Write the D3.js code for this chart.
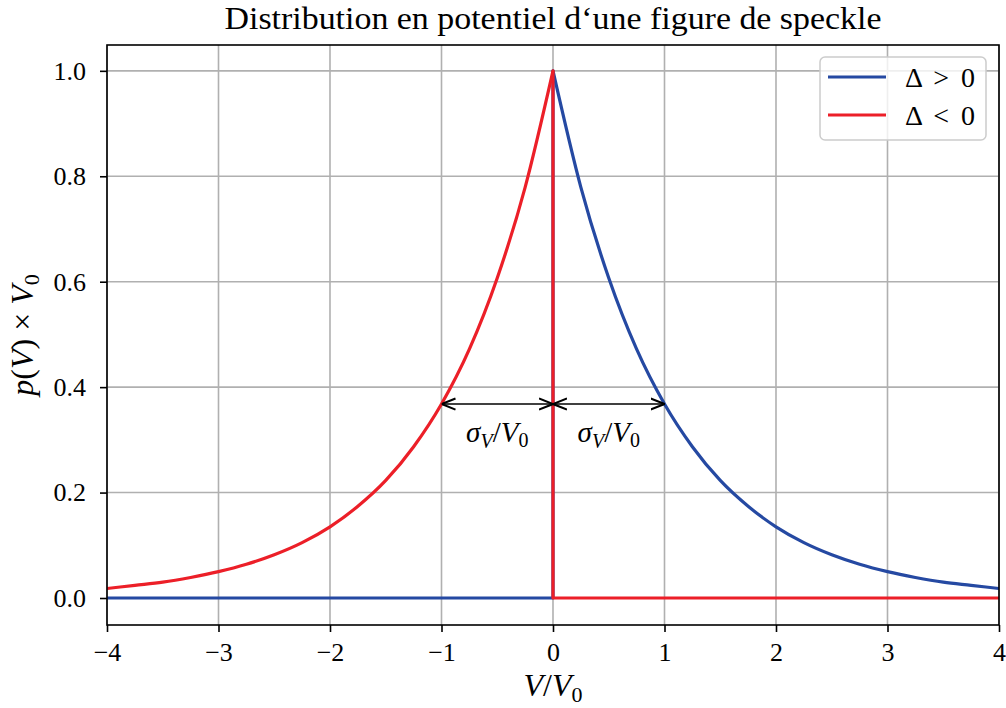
<!DOCTYPE html>
<html><head><meta charset="utf-8">
<script src="https://cdn.jsdelivr.net/npm/d3@7"></script>
<style>body{margin:0;background:#fff}svg{display:block}text{font-family:"Liberation Serif","DejaVu Serif",serif;fill:#000}</style>
</head><body><svg id="c" width="1006" height="708"></svg>
<script>
// Values
const xsPos = [0,0.25,0.5,0.75,1,1.25,1.5,1.75,2,2.25,2.5,2.75,3,3.25,3.5,3.75,4];
const blueCurve = [1,0.779,0.607,0.472,0.368,0.287,0.223,0.174,0.135,0.105,0.082,0.064,0.050,0.039,0.030,0.024,0.018];
const xsNeg = [-4,-3.75,-3.5,-3.25,-3,-2.75,-2.5,-2.25,-2,-1.75,-1.5,-1.25,-1,-0.75,-0.5,-0.25,0];
const redCurve = [0.018,0.024,0.030,0.039,0.050,0.064,0.082,0.105,0.135,0.174,0.223,0.287,0.368,0.472,0.607,0.779,1];
const blueFlat = [[-4,0],[0,0],[0,1]];
const redFlat = [[0,1],[0,0],[4,0]];
const xTicks = [-4,-3,-2,-1,0,1,2,3,4];
const yTicks = [0,0.2,0.4,0.6,0.8,1.0];
const sigmaLevel = 0.368;
const arrowSpans = [[-1,0],[0,1]];
const legendItems = [{sym:"Δ > 0",color:"#2549a2"},{sym:"Δ < 0",color:"#ec1f28"}];

const svg = d3.select("#c");
const L=107,R=999,T=45,B=625;
const x = d3.scaleLinear().domain([-4,4]).range([L,R]);
const y = d3.scaleLinear().domain([-0.0512,1.049]).range([B,T]);
const blue="#2549a2", red="#ec1f28";

// grid
const g = svg.append("g");
g.selectAll(".gx").data(xTicks).enter().append("line")
 .attr("x1",d=>x(d)).attr("x2",d=>x(d)).attr("y1",T).attr("y2",B)
 .attr("stroke","#b0b0b0").attr("stroke-width",1.6);
g.selectAll(".gy").data(yTicks).enter().append("line")
 .attr("y1",d=>y(d)).attr("y2",d=>y(d)).attr("x1",L).attr("x2",R)
 .attr("stroke","#b0b0b0").attr("stroke-width",1.6);

svg.append("clipPath").attr("id","cp").append("rect").attr("x",L).attr("y",T).attr("width",R-L).attr("height",B-T);
const plot = svg.append("g").attr("clip-path","url(#cp)");
const lin = d3.line().x(d=>x(d[0])).y(d=>y(d[1]));
const smooth = d3.line().x(d=>x(d[0])).y(d=>y(d[1])).curve(d3.curveMonotoneX);
function drawSeries(flat, xs, vals, color){
  plot.append("path").attr("d", lin(flat)).attr("fill","none").attr("stroke",color).attr("stroke-width",3.2).attr("stroke-linejoin","round");
  plot.append("path").attr("d", smooth(xs.map((v,i)=>[v,vals[i]]))).attr("fill","none").attr("stroke",color).attr("stroke-width",3.2).attr("stroke-linecap","round");
}
drawSeries(blueFlat, xsPos, blueCurve, blue);
drawSeries(redFlat, xsNeg, redCurve, red);

// arrows
const defs = svg.append("defs");
defs.append("marker").attr("id","ah").attr("viewBox","0 0 10 10").attr("refX",10).attr("refY",5)
 .attr("markerWidth",14).attr("markerHeight",14).attr("markerUnits","userSpaceOnUse").attr("orient","auto-start-reverse")
 .append("path").attr("d","M0,1 L10,5 L0,9").attr("fill","none").attr("stroke","#000").attr("stroke-width",1.5);
svg.selectAll(".arr").data(arrowSpans).enter().append("line")
 .attr("x1",d=>x(d[0])).attr("x2",d=>x(d[1])).attr("y1",y(sigmaLevel)).attr("y2",y(sigmaLevel))
 .attr("stroke","#000").attr("stroke-width",1.6)
 .attr("marker-start","url(#ah)").attr("marker-end","url(#ah)");
arrowSpans.forEach(d=>{
  const t = svg.append("text").attr("x",x((d[0]+d[1])/2)).attr("y",y(sigmaLevel)+38).attr("text-anchor","middle").attr("font-size",29);
  t.append("tspan").attr("font-style","italic").text("σ");
  t.append("tspan").attr("font-style","italic").attr("font-size",20).attr("dy",6).text("V");
  t.append("tspan").attr("dy",-6).text("/");
  t.append("tspan").attr("font-style","italic").text("V");
  t.append("tspan").attr("font-size",20).attr("dy",5).text("0");
});

// axes frame
svg.append("rect").attr("x",L).attr("y",T).attr("width",R-L).attr("height",B-T).attr("fill","none").attr("stroke","#000").attr("stroke-width",1.6);
const xa = svg.append("g").attr("transform",`translate(0,${B})`)
 .call(d3.axisBottom(x).tickValues(xTicks).tickSize(7).tickPadding(11).tickFormat(d=>d<0?"−"+Math.abs(d):d));
const ya = svg.append("g").attr("transform",`translate(${L},0)`)
 .call(d3.axisLeft(y).tickValues(yTicks).tickSize(7).tickPadding(14).tickFormat(d3.format(".1f")));
[xa,ya].forEach(a=>{a.select(".domain").remove();a.selectAll(".tick line").attr("stroke","#000").attr("stroke-width",1.6);
 a.selectAll("text").attr("font-size",26).style("font-family","'Liberation Serif',serif");});

// title
svg.append("text").attr("x",(L+R)/2).attr("y",29).attr("text-anchor","middle").attr("font-size",32)
 .attr("textLength",657).attr("lengthAdjust","spacingAndGlyphs").text("Distribution en potentiel d‘une figure de speckle");
// x label
const xl = svg.append("text").attr("x",(L+R)/2).attr("y",696).attr("text-anchor","middle").attr("font-size",32);
xl.append("tspan").attr("font-style","italic").text("V");
xl.append("tspan").text("/");
xl.append("tspan").attr("font-style","italic").text("V");
xl.append("tspan").attr("font-size",22).attr("dy",6).text("0");
// y label
const yl = svg.append("text").attr("transform",`translate(33,${(T+B)/2}) rotate(-90)`).attr("text-anchor","middle").attr("font-size",32);
yl.append("tspan").attr("font-style","italic").text("p");
yl.append("tspan").text("(");
yl.append("tspan").attr("font-style","italic").text("V");
yl.append("tspan").text(") × ");
yl.append("tspan").attr("font-style","italic").text("V");
yl.append("tspan").attr("font-size",22).attr("dy",6).text("0");

// legend
const lg = svg.append("g");
lg.append("rect").attr("x",820).attr("y",57).attr("width",166).attr("height",83).attr("rx",5)
 .attr("fill","rgba(255,255,255,0.8)").attr("stroke","#cccccc").attr("stroke-width",1.5);
legendItems.forEach((it,i)=>{
  const yy = 77 + i*38;
  lg.append("line").attr("x1",828).attr("x2",886).attr("y1",yy).attr("y2",yy).attr("stroke",it.color).attr("stroke-width",3.2);
  lg.append("text").attr("x",905).attr("y",yy+10).attr("font-size",28).attr("textLength",70).attr("lengthAdjust","spacing").text(it.sym);
});
</script></body></html>
